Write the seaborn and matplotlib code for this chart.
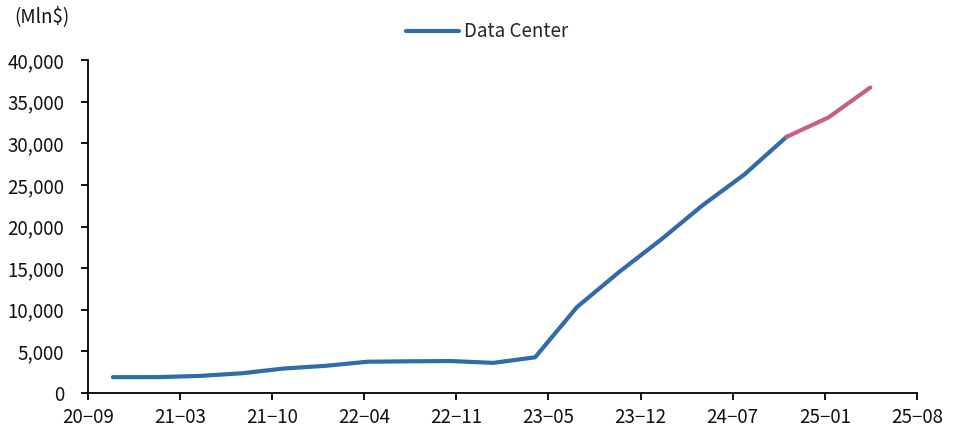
import matplotlib
matplotlib.use("Agg")
import matplotlib.pyplot as plt
import matplotlib.dates as mdates
import matplotlib.ticker as mticker
import seaborn as sns
import pandas as pd

# quarter end dates and data center revenue (Mln$)
actual_dates = ["2020-10-25", "2021-01-31", "2021-05-02", "2021-08-01", "2021-10-31",
                "2022-01-30", "2022-05-01", "2022-07-31", "2022-10-30", "2023-01-29",
                "2023-04-30", "2023-07-30", "2023-10-29", "2024-01-28", "2024-04-28",
                "2024-07-28", "2024-10-27"]
actual_values = [1900, 1903, 2048, 2366, 2936, 3263, 3750, 3806, 3833, 3616,
                 4284, 10323, 14514, 18404, 22563, 26272, 30771]
forecast_dates = ["2024-10-27", "2025-01-26", "2025-04-27"]
forecast_values = [30771, 33100, 36700]

tick_start = "2020-09-01"
tick_step_days = 200
n_ticks = 10

blue = "#2F6CA8"
pink = "#C4608A"

sns.set_theme(style="white")
plt.rcParams["font.family"] = ["Noto Sans CJK KR", "DejaVu Sans"]

df_a = pd.DataFrame({"date": pd.to_datetime(actual_dates), "value": actual_values})
df_f = pd.DataFrame({"date": pd.to_datetime(forecast_dates), "value": forecast_values})

fig = plt.figure(figsize=(9.57, 4.29), dpi=100)
ax = fig.add_axes([0.092, 0.084, 0.866, 0.776])

sns.lineplot(data=df_a, x="date", y="value", ax=ax, color=blue, linewidth=3.0,
             label="Data Center")
sns.lineplot(data=df_f, x="date", y="value", ax=ax, color=pink, linewidth=3.0)

ticks = pd.date_range(tick_start, periods=n_ticks, freq=f"{tick_step_days}D")
ax.set_xlim(ticks[0], ticks[-1])
ax.xaxis.set_major_locator(mticker.FixedLocator(mdates.date2num(ticks)))
ax.xaxis.set_major_formatter(mticker.FuncFormatter(
    lambda v, p: mdates.num2date(v).strftime("%y-%m").replace("-", "\u2212")))

ax.set_ylim(0, 40000)
ax.yaxis.set_major_locator(mticker.MultipleLocator(5000))
ax.yaxis.set_major_formatter(mticker.StrMethodFormatter("{x:,.0f}"))

ax.set_xlabel("")
ax.set_ylabel("")
for s in ["top", "right"]:
    ax.spines[s].set_visible(False)
for s in ["left", "bottom"]:
    ax.spines[s].set_color("black")
    ax.spines[s].set_linewidth(1.3)
ax.tick_params(axis="both", which="major", direction="out", length=5, width=1.3,
               color="black", labelsize=13.5, labelcolor="#111111", bottom=True, left=True)
ax.tick_params(axis="x", pad=5)
ax.tick_params(axis="y", pad=12)

leg = ax.legend(loc="upper center", bbox_to_anchor=(0.482, 1.167), frameon=False,
                fontsize=13.5, handlelength=2.8, handletextpad=0.3)

fig.text(0.015, 0.985, "(Mln$)", fontsize=13.5, ha="left", va="top", color="#111111")

fig.savefig("out.png", dpi=100)
